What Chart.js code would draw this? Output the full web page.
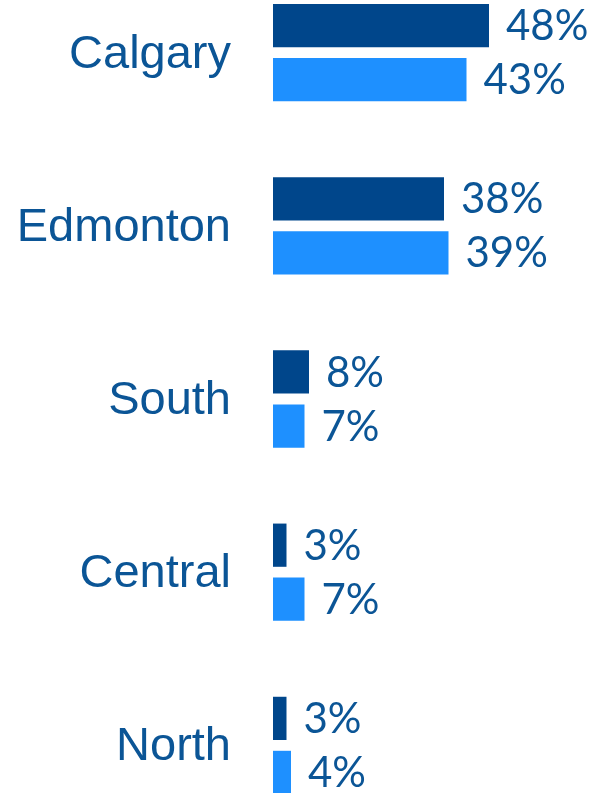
<!DOCTYPE html>
<html>
<head>
<meta charset="utf-8">
<script src="https://cdn.jsdelivr.net/npm/chart.js@4.4.1/dist/chart.umd.min.js"></script>
<style>
    body { margin: 0; background: #fff; overflow: hidden; }
    #wrap { position: absolute; left: 0; top: -34px; width: 595px; height: 866px; }
</style>
</head>
<body>
<div id="wrap"><canvas id="grafico" width="595" height="866"></canvas></div>
<script>
// dados
const categorias = ['Calgary', 'Edmonton', 'South', 'Central', 'North']
const serieEscura = [48, 38, 8, 3, 3]
const serieClara = [43, 39, 7, 7, 4]

const corTexto = '#0b5596'

// rotulos de valor no fim das barras
const rotulos = {
    id: 'rotulos',
    afterDatasetsDraw(chart) {
        const ctx = chart.ctx
        ctx.save()
        ctx.font = '42px Lato'
        ctx.fillStyle = corTexto
        ctx.textAlign = 'left'
        ctx.textBaseline = 'middle'
        chart.data.datasets.forEach((ds, i) => {
            const meta = chart.getDatasetMeta(i)
            meta.data.forEach((bar, j) => {
                ctx.fillText(ds.data[j] + '%', bar.x + 17, bar.y + 1)
            })
        })
        ctx.restore()
    }
}

const ctx = document.getElementById('grafico').getContext('2d')

const grafico = new Chart(ctx, {
    type: 'bar',
    data: {
        labels: categorias,
        datasets: [
            {
                label: 'Serie 1',
                data: serieEscura,
                backgroundColor: '#00468b',
                barPercentage: 0.8,
                categoryPercentage: 0.624
            },
            {
                label: 'Serie 2',
                data: serieClara,
                backgroundColor: '#1e90ff',
                barPercentage: 0.8,
                categoryPercentage: 0.624
            }
        ]
    },
    options: {
        indexAxis: 'y',
        responsive: false,
        animation: false,
        layout: { padding: { left: 0, right: 52, top: 0, bottom: 0 } },
        plugins: {
            legend: { display: false },
            tooltip: { enabled: false }
        },
        scales: {
            x: {
                display: false,
                min: 0,
                max: 60
            },
            y: {
                grid: { display: false, drawTicks: false },
                border: { display: false },
                ticks: {
                    color: corTexto,
                    padding: 42,
                    labelOffset: 2,
                    font: { family: 'Liberation Sans', size: 47 }
                },
                afterFit(scale) {
                    // largura fixa e sem margem extra em cima/embaixo
                    scale.width = 273
                    scale.paddingTop = 0
                    scale.paddingBottom = 0
                }
            }
        }
    },
    plugins: [rotulos]
})
</script>
</body>
</html>
